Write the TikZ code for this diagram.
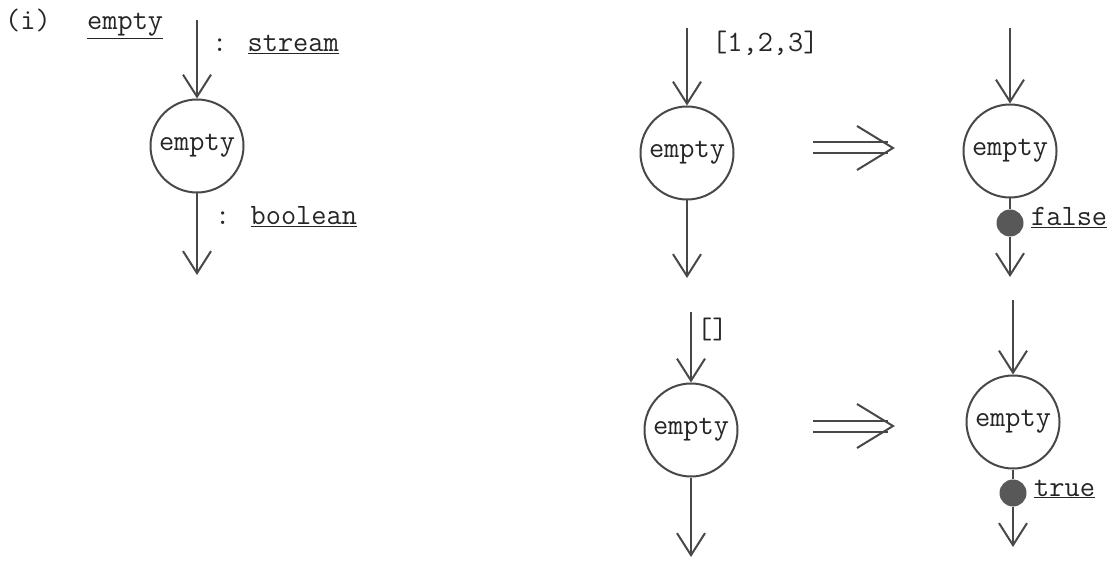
\documentclass[tikz,border=0pt]{standalone}
\usepackage{fontspec}
\usetikzlibrary{arrows.meta,positioning}
\definecolor{inkgray}{RGB}{72,72,72}
\definecolor{dotgray}{RGB}{88,88,88}
\newcommand{\tyul}[1]{\underline{#1}}

\begin{document}
\begin{tikzpicture}[x=1pt,y=-1pt,font=\ttfamily\fontsize{29.5}{34}\selectfont,
  flow/.style={draw=inkgray,line width=2pt,-{Straight Barb[length=22pt,width=28pt]}},
  wire/.style={draw=inkgray,line width=2pt},
  opnode/.style={circle,draw=inkgray,line width=2pt,minimum size=93pt,inner sep=0pt,text=black!85},
  tok/.style={circle,fill=dotgray,minimum size=27pt,inner sep=0pt},
  lbl/.style={anchor=base west,inner sep=0pt,text=black!85}]
  \useasboundingbox (0,0) rectangle (1116,561);

  % ---- (i) signature of empty ----
  \node[lbl] (tag) at (5,30) {(i)};
  \node[lbl] (fname) at (87,30) {\tyul{empty}};
  \node[opnode] (opA) at (197,146) {empty};
  \coordinate (inA) at (197,20);
  \coordinate (outA) at (197,275);
  \draw[flow] (inA) -- (opA);
  \draw[flow] (opA) -- (outA);
  \node[lbl] (tyin) at (212,52) {: \tyul{stream}};
  \node[lbl] (tyout) at (215,225) {: \tyul{boolean}};

  % ---- left-hand sides (before firing) ----
  \foreach \n/\cx/\cy/\ytop/\ybot in {B/687/153/28/278, D/691/430/312/557}{
    \node[opnode] (op\n) at (\cx,\cy) {empty};
    \coordinate (in\n) at (\cx,\ytop);
    \coordinate (out\n) at (\cx,\ybot);
    \draw[flow] (in\n) -- (op\n);
    \draw[flow] (op\n) -- (out\n);
  }
  \node[lbl] (valB) at (712,52) {[1,2,3]};
  \node[lbl] (valD) at (697,338) {[]};

  % ---- rewrite arrows ----
  \foreach \n/\iy in {top/148,bot/426}{
    \coordinate (\n from) at (813,\iy);
    \coordinate (\n to) at (893,\iy);
    \draw[wire] ([yshift=5.5pt]\n from) -- ([yshift=5.5pt,xshift=-5pt]\n to);
    \draw[wire] ([yshift=-5.5pt]\n from) -- ([yshift=-5.5pt,xshift=-5pt]\n to);
    \draw[wire,line join=miter] ([xshift=-36pt,yshift=22pt]\n to) -- (\n to) -- ([xshift=-36pt,yshift=-22pt]\n to);
  }

  % ---- right-hand sides (after firing) ----
  \foreach \n/\cx/\cy/\ytop/\ydot/\ybot/\res in {C/1010/151/28/223/277/false, E/1013/422/300/493/547/true}{
    \node[opnode] (op\n) at (\cx,\cy) {empty};
    \coordinate (in\n) at (\cx,\ytop);
    \node[tok] (dot\n) at (\cx,\ydot) {};
    \coordinate (out\n) at (\cx,\ybot);
    \draw[flow] (in\n) -- (op\n);
    \draw[wire] (op\n) -- (dot\n);
    \draw[flow] (dot\n) -- (out\n);
    \node[lbl] (res\n) at (\cx+21,\ydot+3) {\tyul{\res}};
  }
\end{tikzpicture}
\end{document}
